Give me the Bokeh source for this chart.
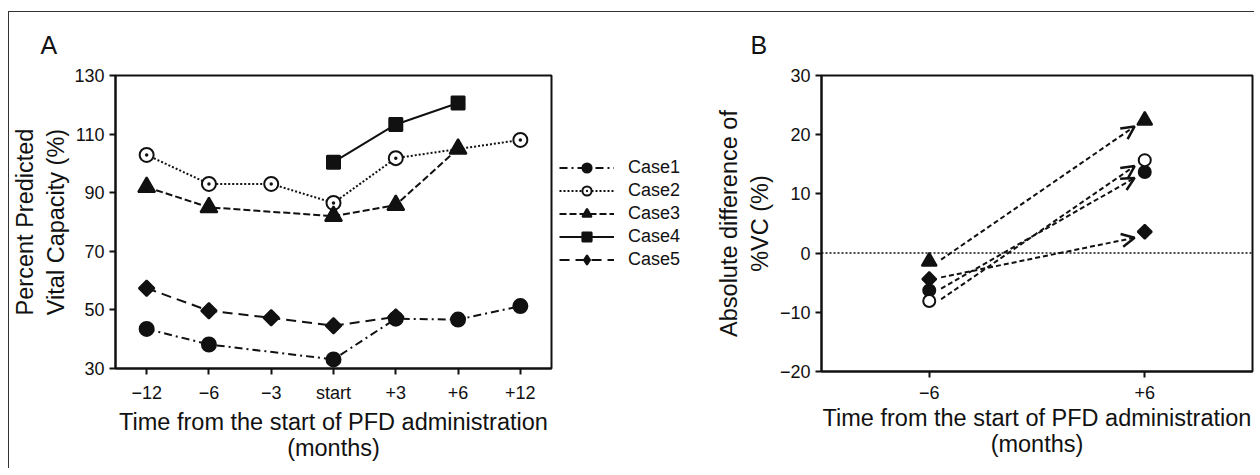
import math
from bokeh.plotting import figure
from bokeh.models import (FactorRange, Range1d, FixedTicker, Legend, LegendItem,
                          Span, Arrow, OpenHead, ColumnDataSource)
from bokeh.layouts import row
from bokeh.embed import file_html
from bokeh.resources import INLINE

# ---------------- data ----------------
time_labels = ["−12", "−6", "−3", "start", "+3", "+6", "+12"]
case_names = ["Case1", "Case2", "Case3", "Case4", "Case5"]
case1 = [43.5, 38.2, None, 33.1, 47.0, 46.7, 51.3]
case2 = [102.9, 93.0, 93.0, 86.5, 101.8, None, 108.0]
case3 = [91.9, 85.0, None, 82.0, 85.8, 105.0, None]
case4 = [None, None, None, 100.4, 113.3, 120.6, None]
case5 = [57.4, 49.7, 47.3, 44.6, 47.6, None, None]

diff_labels = ["−6", "+6"]
diff_cases = ["Case1", "Case2", "Case3", "Case5"]
diff_minus6 = [-6.3, -8.1, -1.4, -4.4]
diff_plus6 = [13.7, 15.7, 22.4, 3.6]

y_ticks_a = [30, 50, 70, 90, 110, 130]
y_ticks_b = [-20, -10, 0, 10, 20, 30]

# ---------------- styles ----------------
INK = "#111111"
TICK_FONT = "Liberation Sans"
LABEL_FONT = "Liberation Sans"

case_styles = {
    "Case1": dict(marker="circle", size=14, fill=INK, dash="8 4 2 4", angle=0, lmarker="circle"),
    "Case2": dict(marker="circle_dot", size=14, fill="white", dash="2 2", angle=0, lmarker="circle_dot"),
    "Case3": dict(marker="triangle", size=17, fill=INK, dash="7 3", angle=0, lmarker="triangle"),
    "Case4": dict(marker="square", size=13, fill=INK, dash="solid", angle=0, lmarker="square"),
    "Case5": dict(marker="square", size=11, fill=INK, dash="10 6", angle=math.pi / 4, lmarker="diamond"),
}


def style_axes(p):
    for ax in (p.xaxis[0], p.yaxis[0]):
        ax.axis_line_width = 2
        ax.axis_line_color = INK
        ax.major_tick_line_width = 2
        ax.major_tick_line_color = INK
        ax.major_tick_out = 6
        ax.major_tick_in = 0
        ax.minor_tick_line_color = None
        ax.major_label_text_font = TICK_FONT
        ax.major_label_text_font_size = "18px"
        ax.major_label_text_color = INK
        ax.axis_label_text_font = LABEL_FONT
        ax.axis_label_text_font_size = "23.5px"
        ax.axis_label_text_font_style = "normal"
        ax.axis_label_text_color = INK
    p.xaxis.axis_label_text_line_height = 1.0
    p.xaxis.axis_label_standoff = 3
    p.xaxis.major_label_standoff = 8
    p.xgrid.grid_line_color = None
    p.ygrid.grid_line_color = None
    p.outline_line_color = INK
    p.outline_line_width = 2
    p.outline_line_alpha = 1
    p.background_fill_color = "white"
    p.border_fill_color = "white"
    p.title.text_font = LABEL_FONT
    p.title.text_font_size = "25px"
    p.title.text_font_style = "normal"
    p.title.text_color = INK
    p.title.align = "left"
    p.title.standoff = 33


# ---------------- panel A ----------------
p1 = figure(frame_width=436, frame_height=293, x_range=FactorRange(*time_labels),
            y_range=Range1d(30, 130), output_backend="svg", toolbar_location=None,
            title="A", min_border_left=104, min_border_right=8,
            min_border_top=63, min_border_bottom=100)
style_axes(p1)
p1.title.offset = -75
p1.yaxis.ticker = FixedTicker(ticks=y_ticks_a)
p1.xaxis.axis_label = "Time from the start of PFD administration\n(months)"
p1.yaxis.axis_label = "Percent Predicted\nVital Capacity (%)"
p1.yaxis.axis_label_standoff = 2

# legend panel (same series, shown only as legend entries)
lf = figure(width=133, height=456, x_range=p1.x_range, y_range=p1.y_range,
            x_axis_location=None, y_axis_location=None, output_backend="svg",
            toolbar_location=None, min_border=0)
lf.outline_line_color = None
lf.xgrid.grid_line_color = None
lf.ygrid.grid_line_color = None
lf.background_fill_color = "white"
lf.border_fill_color = "white"

items = []
for name, vals in zip(case_names, [case1, case2, case3, case4, case5]):
    st = case_styles[name]
    xs = [t for t, v in zip(time_labels, vals) if v is not None]
    ys = [v for v in vals if v is not None]
    src = ColumnDataSource(dict(x=xs, y=ys))
    p1.line("x", "y", source=src, line_color=INK, line_width=2, line_dash=st["dash"])
    p1.scatter("x", "y", source=src, marker=st["marker"], size=st["size"],
               angle=st["angle"], fill_color=st["fill"], line_color=INK, line_width=2)
    ln = lf.line("x", "y", source=src, line_color=INK, line_width=2,
                 line_dash=st["dash"], visible=False)
    sc = lf.scatter("x", "y", source=src, marker=st["lmarker"], size=st["size"],
                    fill_color=st["fill"], line_color=INK, line_width=2, visible=False)
    items.append(LegendItem(label=name, renderers=[ln, sc]))

legend = Legend(items=items, location=(0, 97), orientation="vertical",
                border_line_color=None, background_fill_alpha=0,
                inactive_fill_alpha=0,
                padding=0, margin=0, spacing=0, glyph_width=55, glyph_height=23,
                label_height=22, label_standoff=14,
                label_text_font=TICK_FONT, label_text_font_size="18px",
                label_text_color=INK)
lf.add_layout(legend, "center")

# ---------------- panel B ----------------
p2 = figure(frame_width=431, frame_height=296, x_range=Range1d(-0.5, 1.5),
            y_range=Range1d(-20, 30), output_backend="svg", toolbar_location=None,
            title="B", min_border_left=129, min_border_right=2,
            min_border_top=63, min_border_bottom=97)
style_axes(p2)
p2.title.offset = -71
x_pos = list(range(len(diff_labels)))
p2.xaxis.ticker = FixedTicker(ticks=x_pos)
p2.xaxis.major_label_overrides = {i: lbl for i, lbl in zip(x_pos, diff_labels)}
p2.yaxis.ticker = FixedTicker(ticks=y_ticks_b)
p2.xaxis.axis_label = "Time from the start of PFD administration\n(months)"
p2.yaxis.axis_label = "Absolute difference of\n%VC (%)"
p2.yaxis.axis_label_standoff = 4

p2.add_layout(Span(location=0, dimension="width", line_color=INK,
                   line_width=1.5, line_dash="2 2"))

# arrows from the -6 value to the +6 value
x0, x1 = x_pos
arrow_src = ColumnDataSource(dict(
    xs=[x0 + 0.055] * len(diff_cases),
    ys=[v + 0.3 for v in diff_minus6],
    xe=[x1 - 0.047] * len(diff_cases),
    ye=[v - 1.0 for v in diff_plus6],
))
p2.add_layout(Arrow(x_start="xs", y_start="ys", x_end="xe", y_end="ye",
                    source=arrow_src, line_color=INK, line_width=2,
                    line_dash="5 3",
                    end=OpenHead(size=13, line_width=2.5, line_color=INK)))

b_markers = {"Case1": ("circle", 12, INK, 0), "Case2": ("circle", 12, "white", 0),
             "Case3": ("triangle", 15, INK, 0), "Case5": ("square", 10, INK, math.pi / 4)}
for name, vm, vp in zip(diff_cases, diff_minus6, diff_plus6):
    mk, sz, fc, ang = b_markers[name]
    p2.scatter([x0, x1], [vm, vp], marker=mk, size=sz, angle=ang, fill_color=fc,
               line_color=INK, line_width=2)

layout = row(p1, lf, p2, margin=(11, 0, 0, 8),
             styles={"border-left": "1.5px solid #333", "border-top": "1.5px solid #333"})

open("out.html", "w").write(file_html(layout, INLINE))
